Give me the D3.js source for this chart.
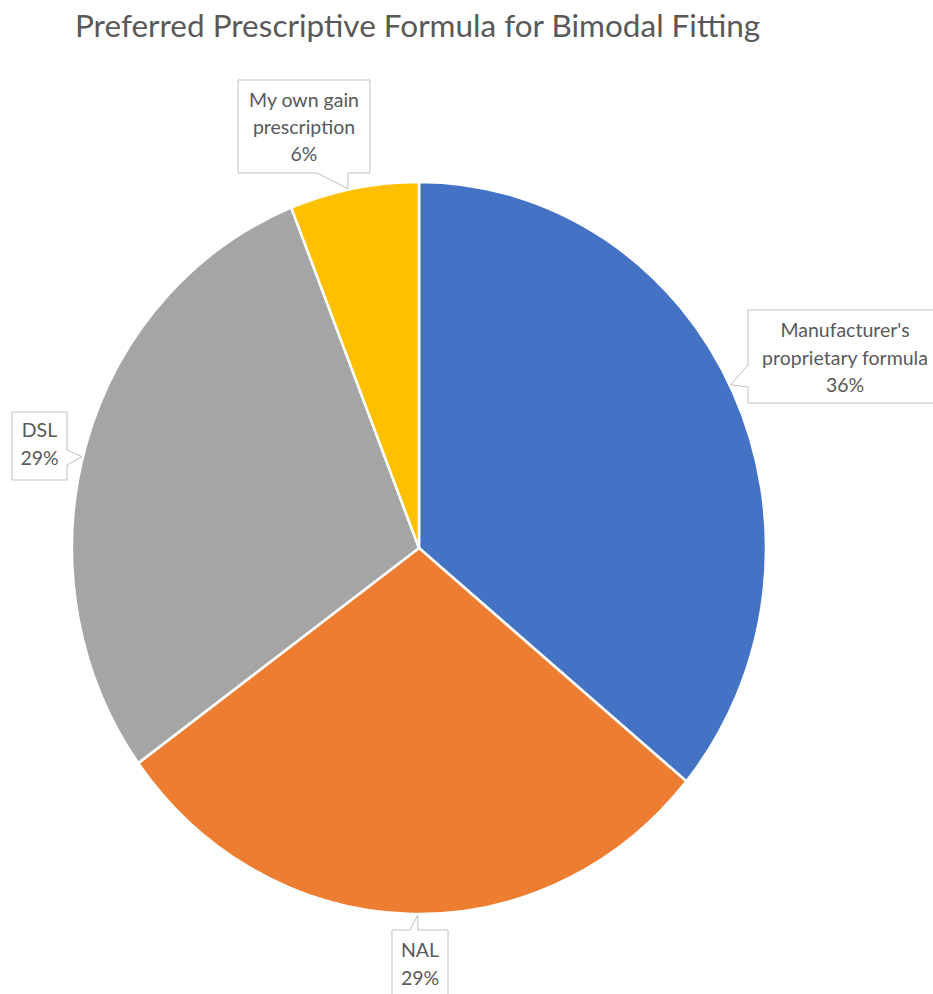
<!DOCTYPE html>
<html>
<head>
<meta charset="utf-8">
<script src="https://cdn.jsdelivr.net/npm/d3@7"></script>
<style>
  html, body { margin: 0; padding: 0; background: #fff; }
  svg { display: block; }
  text { font-family: Lato, "Noto Sans", sans-serif; fill: #595959; }
</style>
</head>
<body>
<script>
// Survey shares for the preferred prescriptive formula
const categories = ["Manufacturer's proprietary formula", "NAL", "DSL", "My own gain prescription"];
const values = [36, 29, 29, 6];
const colors = ["#4472C4", "#ED7D31", "#A5A5A5", "#FFC000"];
// label lines shown in each callout (value appended below)
const labelLines = [["Manufacturer's", "proprietary formula"], ["NAL"], ["DSL"], ["My own gain", "prescription"]];

const W = 933, H = 994;
const cx = 419, cy = 548, R = 347, yStretch = 1.055;
const tipR = 348;

// callout boxes: box geometry, side the pointer leaves from, pointer base span, tip angle nudge
const callouts = [
  { x: 748, y: 310, w: 194, h: 93, side: "left", a: 55, b: 77, tipDA: -1.2, first: 337, step: 27.5 },
  { x: 392, y: 930, w: 56, h: 80, side: "top", a: 18, b: 26, tipDA: -1.6, first: 957, step: 28 },
  { x: 12, y: 412, w: 55, h: 68, side: "right", a: 38, b: 53, tipDA: -1.8, first: 437, step: 28 },
  { x: 238, y: 80, w: 132, h: 93, side: "bottom", a: 79, b: 110, tipDA: -1.0, first: 107, step: 27 }
];

const svg = d3.select("body").append("svg").attr("width", W).attr("height", H);

svg.append("text")
  .attr("x", 75).attr("y", 37)
  .style("font-size", "31.5px")
  .text("Preferred Prescriptive Formula for Bimodal Fitting");

const pie = d3.pie().sort(null).value(d => d)(values);
const arc = d3.arc().innerRadius(0).outerRadius(R);

const g = svg.append("g").attr("transform", `translate(${cx},${cy}) scale(1,${yStretch})`);
g.selectAll("path.slice")
  .data(pie)
  .join("path")
  .attr("class", "slice")
  .attr("d", arc)
  .attr("fill", (d, i) => colors[i])
  .attr("stroke", "#fff")
  .attr("stroke-width", 2.5)
  .attr("stroke-linejoin", "round");

function calloutPath(c, tip) {
  const { x, y, w, h, side, a, b } = c;
  const p = [];
  p.push([x, y]);
  if (side === "top") { p.push([x + a, y], tip, [x + b, y]); }
  p.push([x + w, y]);
  if (side === "right") { p.push([x + w, y + a], tip, [x + w, y + b]); }
  p.push([x + w, y + h]);
  if (side === "bottom") { p.push([x + b, y + h], tip, [x + a, y + h]); }
  p.push([x, y + h]);
  if (side === "left") { p.push([x, y + b], tip, [x, y + a]); }
  return "M" + p.map(q => q.join(",")).join("L") + "Z";
}

pie.forEach((d, i) => {
  const c = callouts[i];
  const mid = (d.startAngle + d.endAngle) / 2 + c.tipDA * Math.PI / 180;
  const tip = [cx + tipR * Math.sin(mid), cy - tipR * yStretch * Math.cos(mid)];
  svg.append("path")
    .attr("d", calloutPath(c, tip))
    .attr("fill", "#fff")
    .attr("stroke", "#BFBFBF")
    .attr("stroke-width", 1);
  const lines = labelLines[i].concat([values[i] + "%"]);
  const t = svg.append("text")
    .attr("text-anchor", "middle")
    .style("font-size", "19.5px");
  lines.forEach((ln, k) => {
    t.append("tspan")
      .attr("x", c.x + c.w / 2)
      .attr("y", c.first + k * c.step)
      .text(ln);
  });
});
</script>
</body>
</html>
